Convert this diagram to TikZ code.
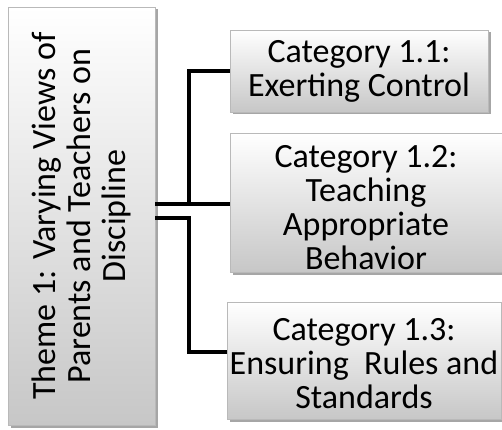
\documentclass[tikz,border=0pt]{standalone}
\usepackage{fontspec}
\setmainfont{Carlito}
\usetikzlibrary{shadows,calc}
\tikzset{
  catbox/.style={draw=gray!55, line width=0.6pt, top color=white, bottom color=black!22,
    drop shadow={shadow xshift=2.5pt, shadow yshift=-2.5pt, opacity=0.35, fill=black},
    align=center, inner sep=0pt, font=\fontsize{34}{34}\selectfont},
  cattext/.style={align=center, inner sep=0pt, font=\fontsize{34}{34}\selectfont},
  conn/.style={line width=4.5pt, black},
  themetext/.style={rotate=90, align=center, inner sep=0pt, font=\fontsize{34}{35}\selectfont}
}
\begin{document}
\begin{tikzpicture}[x=1pt,y=1pt]
\useasboundingbox (0,0) rectangle (502,429);
\node[catbox, minimum width=147pt, minimum height=418pt] (t) at (81.5,213) {};
\node[themetext] (tt) at (t.center) {Theme 1: Varying Views of\\Parents and Teachers on\\Discipline};
\node[catbox, minimum width=258pt, minimum height=82pt] (c1) at (359,358) {Category 1.1:\\Exerting Control};
\node[catbox, minimum width=272pt, minimum height=139pt] (c2) at (366,226.5) {};
\node[cattext] (c2t) at ($(c2.center)+(0,-5)$) {Category 1.2:\\Teaching\\Appropriate\\Behavior};
\node[catbox, minimum width=274pt, minimum height=117pt] (c3) at (364,68) {};
\node[cattext] (c3t) at ($(c3.center)+(0,-3)$) {Category 1.3:\\Ensuring~ Rules and\\Standards};
\coordinate (j1) at (189,225);
\coordinate (j2) at (189,211);
\draw[conn] (t.east|-j1) -- (c2.west|-j1);
\draw[conn] (j1) |- (c1.west);
\draw[conn] (t.east|-j2) -- (j2) |- ($(c3.west)+(0,9)$);
\end{tikzpicture}
\end{document}
